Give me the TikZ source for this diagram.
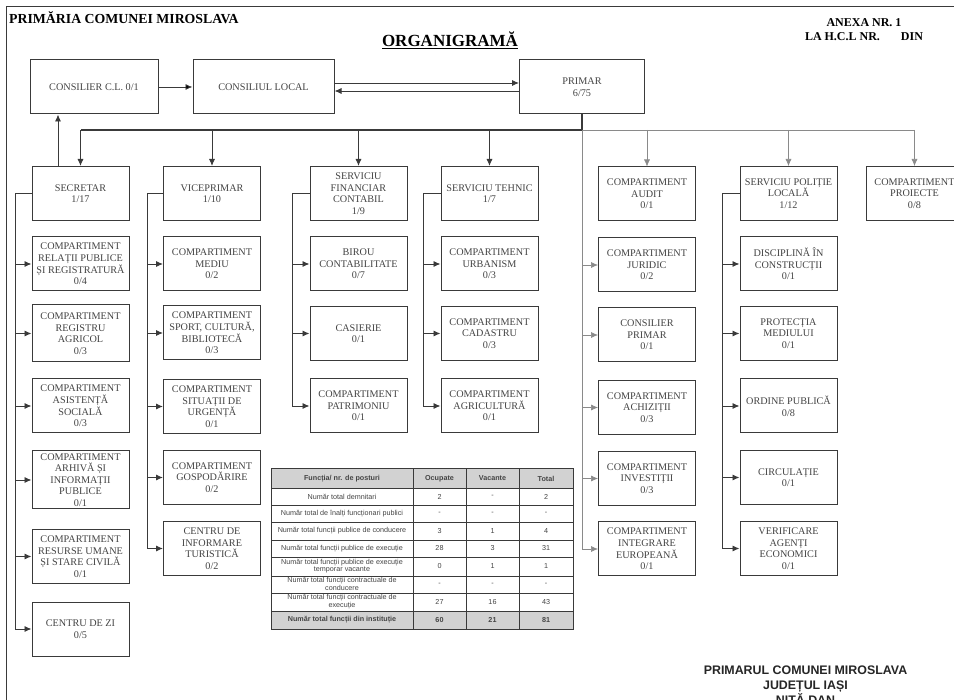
\documentclass[tikz,border=0pt]{standalone}
\usepackage{fontspec}
\setmainfont{Liberation Serif}
\setsansfont{Liberation Sans}
\usetikzlibrary{arrows.meta}

\definecolor{boxline}{HTML}{3A3A3A}
\definecolor{boxtext}{HTML}{444444}
\definecolor{thinline}{HTML}{8A8A8A}
\definecolor{cellfill}{HTML}{D2D2D2}

\begin{document}
\begin{tikzpicture}[x=1pt, y=-1pt, >={Latex[length=7pt,width=6pt]},
    unit/.style={draw=boxline, line width=1pt, text=boxtext, align=center, anchor=center,
      minimum width=97pt, minimum height=54pt, inner sep=1pt, font=\fontsize{10.2}{11.6}\selectfont},
    link/.style={->, draw=boxline, line width=0.9pt},
    faint/.style={->, draw=thinline, line width=0.6pt},
    tabline/.style={draw=boxline, line width=0.6pt},
    cell/.style={font=\sffamily\fontsize{7.2}{7.8}\selectfont, text=boxtext, align=center, anchor=center, inner sep=0pt},
    headcell/.style={cell, font=\sffamily\bfseries\fontsize{7.2}{7.8}\selectfont}]
    \fill[white] (0,0) rectangle (954,700);
    \useasboundingbox (0,0) rectangle (954,700);
    \clip (0,0) rectangle (954,700);
    \draw[draw=boxline, line width=0.8pt] (6,700) -- (6,6) -- (954,6);

    \node (HEAD) [anchor=base west, inner sep=0, font=\bfseries\fontsize{13.8}{16}\selectfont] at (9, 24) {PRIMĂRIA COMUNEI MIROSLAVA};
    \node (TITLE) [anchor=base, inner sep=0, font=\bfseries\fontsize{17}{20}\selectfont] at (450, 47) {\underline{ORGANIGRAMĂ}};
    \node (ANX) [anchor=north, align=center, inner sep=0, font=\bfseries\fontsize{12}{14}\selectfont] at (864, 18) {ANEXA NR. 1\\LA H.C.L NR.\hspace{18pt} DIN};

    \node (CL) [unit, minimum width=128pt] at (94, 87) {CONSILIER C.L. 0/1};
    \node (LOC) [unit, minimum width=141pt] at (263.5, 87) {CONSILIUL LOCAL};
    \node (PR) [unit, minimum width=125pt] at (582, 87) {PRIMAR\\6/75};

    \node (SEC) [unit] at (80.5, 193.5) {SECRETAR\\1/17};
    \node (VP) [unit] at (212, 193.5) {VICEPRIMAR\\1/10};
    \node (SFC) [unit] at (358.5, 193.5) {SERVICIU\\FINANCIAR\\CONTABIL\\1/9};
    \node (ST) [unit] at (489.5, 193.5) {SERVICIU TEHNIC\\1/7};
    \node (AUD) [unit] at (647, 194) {COMPARTIMENT\\AUDIT\\0/1};
    \node (SPL) [unit] at (788.5, 193.5) {SERVICIU POLIȚIE\\LOCALĂ\\1/12};
    \node (PRO) [unit] at (914.5, 193.5) {COMPARTIMENT\\PROIECTE\\0/8};

    \node (S1) [unit] at (80.5, 264) {COMPARTIMENT\\RELAȚII PUBLICE\\ȘI REGISTRATURĂ\\0/4};
    \node (S2) [unit, minimum height=57pt] at (80.5, 333.5) {COMPARTIMENT\\REGISTRU\\AGRICOL\\0/3};
    \node (S3) [unit] at (80.5, 406) {COMPARTIMENT\\ASISTENȚĂ\\SOCIALĂ\\0/3};
    \node (S4) [unit, minimum height=58pt] at (80.5, 480) {COMPARTIMENT\\ARHIVĂ ȘI\\INFORMAȚII\\PUBLICE\\0/1};
    \node (S5) [unit] at (80.5, 556.5) {COMPARTIMENT\\RESURSE UMANE\\ȘI STARE CIVILĂ\\0/1};
    \node (S6) [unit] at (80.5, 629) {CENTRU DE ZI\\0/5};

    \node (V1) [unit] at (212, 264) {COMPARTIMENT\\MEDIU\\0/2};
    \node (V2) [unit] at (212, 333) {COMPARTIMENT\\SPORT, CULTURĂ,\\BIBLIOTECĂ\\0/3};
    \node (V3) [unit] at (212, 406.5) {COMPARTIMENT\\SITUAȚII DE\\URGENȚĂ\\0/1};
    \node (V4) [unit] at (212, 477.5) {COMPARTIMENT\\GOSPODĂRIRE\\0/2};
    \node (V5) [unit] at (212, 548.5) {CENTRU DE\\INFORMARE\\TURISTICĂ\\0/2};

    \node (F1) [unit] at (358.5, 264) {BIROU\\CONTABILITATE\\0/7};
    \node (F2) [unit] at (358.5, 333.5) {CASIERIE\\0/1};
    \node (F3) [unit] at (358.5, 406) {COMPARTIMENT\\PATRIMONIU\\0/1};

    \node (T1) [unit] at (489.5, 264) {COMPARTIMENT\\URBANISM\\0/3};
    \node (T2) [unit] at (489.5, 333.5) {COMPARTIMENT\\CADASTRU\\0/3};
    \node (T3) [unit] at (489.5, 406) {COMPARTIMENT\\AGRICULTURĂ\\0/1};

    \node (A1) [unit] at (647, 265) {COMPARTIMENT\\JURIDIC\\0/2};
    \node (A2) [unit] at (647, 335) {CONSILIER\\PRIMAR\\0/1};
    \node (A3) [unit] at (647, 407.5) {COMPARTIMENT\\ACHIZIȚII\\0/3};
    \node (A4) [unit] at (647, 478.5) {COMPARTIMENT\\INVESTIȚII\\0/3};
    \node (A5) [unit] at (647, 549) {COMPARTIMENT\\INTEGRARE\\EUROPEANĂ\\0/1};

    \node (P1) [unit] at (788.5, 264) {DISCIPLINĂ ÎN\\CONSTRUCȚII\\0/1};
    \node (P2) [unit] at (788.5, 333.5) {PROTECȚIA\\MEDIULUI\\0/1};
    \node (P3) [unit] at (788.5, 406) {ORDINE PUBLICĂ\\0/8};
    \node (P4) [unit] at (788.5, 477.5) {CIRCULAȚIE\\0/1};
    \node (P5) [unit] at (788.5, 548.5) {VERIFICARE\\AGENȚI\\ECONOMICI\\0/1};

    \draw[link] (CL) edge (LOC);
    \draw[link] ([yshift=4pt]LOC.east) -- ([yshift=4pt]PR.west);
    \draw[link] ([yshift=-4pt]PR.west) -- ([yshift=-4pt]LOC.east);
    \draw[link] ([xshift=-22.5pt]SEC.north) -- ([xshift=-22.5pt]SEC.north |- CL.south);

    \coordinate (bus) at (582, 130);
    \draw[draw=boxline, line width=1.2pt] (PR.south) -- (bus) -- (bus -| SEC.north);
    \draw[faint, -] (bus) -- (bus -| PRO.north);
    \foreach \n in {SEC, VP, SFC, ST}
        \draw[link] (bus -| \n.north) -- (\n.north);
    \foreach \n in {AUD, SPL, PRO}
        \draw[faint] (bus -| \n.north) -- (\n.north);

    \foreach \n in {S1, S2, S3, S4, S5, S6}
        \draw[link] (SEC.west) -- ++(-16,0) |- (\n.west);
    \foreach \n in {V1, V2, V3, V4, V5}
        \draw[link] (VP.west) -- ++(-16,0) |- (\n.west);
    \foreach \n in {F1, F2, F3}
        \draw[link] (SFC.west) -- ++(-17,0) |- (\n.west);
    \foreach \n in {T1, T2, T3}
        \draw[link] (ST.west) -- ++(-17,0) |- (\n.west);
    \foreach \n in {A1, A2, A3, A4, A5}
        \draw[faint] (bus) |- (\n.west);
    \foreach \n in {P1, P2, P3, P4, P5}
        \draw[link] (SPL.west) -- ++(-17,0) |- (\n.west);

    \fill[cellfill] (271,469) rectangle (573,488);
    \fill[cellfill] (271,611) rectangle (573,629);
    \foreach \y in {488, 505, 522, 540, 557, 576, 593, 611}
        \draw[tabline] (271,\y) -- (573,\y);
    \foreach \x in {413, 466, 519}
        \draw[tabline] (\x,469) -- (\x,629);
    \draw[tabline, line width=1pt] (271,469) rectangle (573,629);

    \node (H0) [headcell] at (342, 478.5) {Funcția/ nr. de posturi};
    \node (H1) [headcell] at (439.5, 478.5) {Ocupate};
    \node (H2) [headcell] at (492.5, 478.5) {Vacante};
    \node (H3) [headcell] at (546, 478.5) {Total};
    \foreach \yc/\txt/\oc/\va/\tot [count=\i] in {
        496.5/{Număr total demnitari}/2/-/2,
        513.5/{Număr total de înalți funcționari publici}/-/-/-,
        531/{Număr total funcții publice de conducere}/3/1/4,
        548.5/{Număr total funcții publice de execuție}/28/3/31,
        566/{Număr total funcții publice de execuție\\temporar vacante}/0/1/1,
        584/{Număr total funcții contractuale de\\conducere}/-/-/-,
        602/{Număr total funcții contractuale de\\execuție}/27/16/43} {
        \node (R\i a) [cell] at (342, \yc) {\txt};
        \node (R\i b) [cell] at (439.5, \yc) {\oc};
        \node (R\i c) [cell] at (492.5, \yc) {\va};
        \node (R\i d) [cell] at (546, \yc) {\tot};
    }
    \node (TOT0) [headcell] at (342, 620) {Număr total funcții din instituție};
    \node (TOT1) [headcell] at (439.5, 620) {60};
    \node (TOT2) [headcell] at (492.5, 620) {21};
    \node (TOT3) [headcell] at (546, 620) {81};

    \node (SIGN) [anchor=north, align=center, inner sep=0, text=black!85, font=\sffamily\bfseries\fontsize{12.4}{15}\selectfont] at (805.5, 666) {PRIMARUL COMUNEI MIROSLAVA\\JUDEȚUL IAȘI\\NIȚĂ DAN};
  \end{tikzpicture}
\end{document}
